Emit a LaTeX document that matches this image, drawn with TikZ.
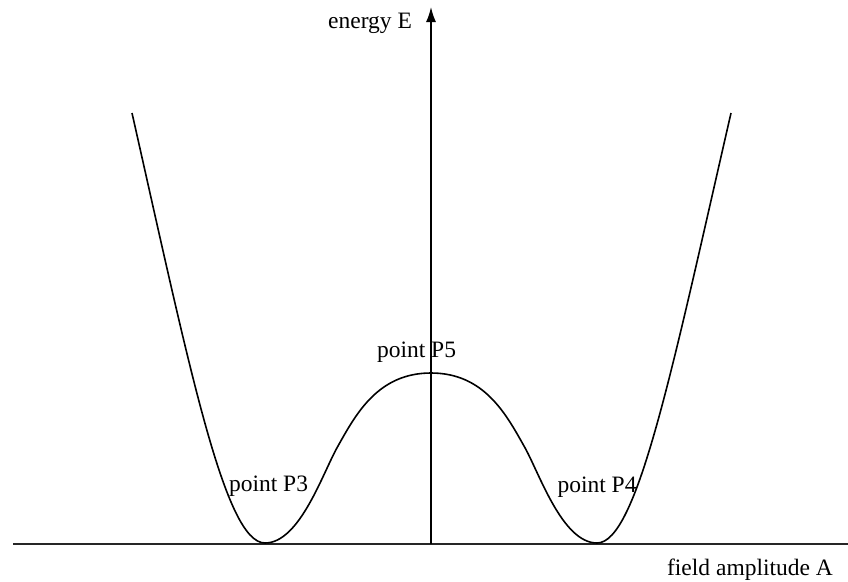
\documentclass[tikz,border=0pt]{standalone}
\usepackage{fontspec}
\setmainfont{Liberation Serif}
\usetikzlibrary{arrows.meta}
\begin{document}
\begin{tikzpicture}[x=1pt,y=-1pt,
  lbl/.style={inner sep=0pt,font=\fontsize{23.5}{28}\selectfont},
  axisline/.style={line width=1.8pt,draw=black!85},
  curveline/.style={line width=1.6pt,draw=black}]
\useasboundingbox (0,0) rectangle (848,581);
% axes
\coordinate (xl) at (13,544);
\coordinate (xr) at (848,544);
\coordinate (o) at (431,544);
\coordinate (yt) at (431,7);
\draw[axisline] (xl) -- (xr);
\draw[line width=1.5pt,-{Latex[length=15pt,width=10pt]}] (o) -- (yt);
% potential curve
\coordinate (lt) at (132,113);
\coordinate (lm) at (265,543);
\coordinate (li) at (338,446);
\coordinate (top) at (431,373);
\coordinate (ri) at (524,446);
\coordinate (rm) at (597,543);
\coordinate (rt) at (731,113);
\draw[curveline] (lt) .. controls (190,370) and (225,543) .. (lm)
  .. controls (300,543) and (323,472) .. (li)
  .. controls (356,414) and (378,373) .. (top)
  .. controls (484,373) and (506,414) .. (ri)
  .. controls (539,472) and (562,543) .. (rm)
  .. controls (637,543) and (672,370) .. (rt);
% labels
\node[lbl] (ylab) at (370,23) {energy E};
\node[lbl] (xlab) at (750,570) {field amplitude A};
\node[lbl] (p5) at (416.5,352) {point P5};
\node[lbl] (p3) at (268.5,486) {point P3};
\node[lbl] (p4) at (597,487) {point P4};
\end{tikzpicture}
\end{document}
